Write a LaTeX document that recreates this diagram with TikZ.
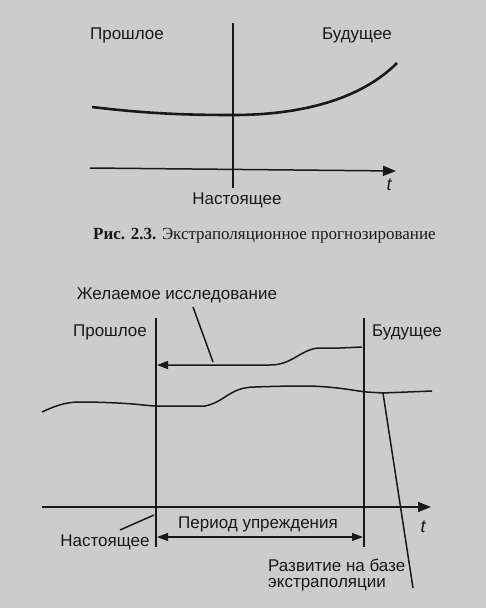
\documentclass[tikz,border=0pt]{standalone}
\usepackage{fontspec}
\setmainfont{Liberation Serif}
\newfontfamily\lblfont{Liberation Sans}
\usetikzlibrary{arrows.meta}
\definecolor{paper}{gray}{0.80}
\definecolor{ink}{gray}{0.10}
\tikzset{
  lbl/.style={font=\lblfont\fontsize{17}{18}\selectfont, text=ink, inner sep=0pt},
  ln/.style={draw=ink, line width=1.5pt},
  thick curve/.style={draw=ink, line width=2.6pt},
  tip/.style={-{Triangle[length=13pt,width=10pt]}},
}
\begin{document}
\begin{tikzpicture}[x=1pt,y=-1pt]
\fill[paper] (0,0) rectangle (486,608);
\useasboundingbox (0,0) rectangle (486,608);
% ---------- top diagram ----------
\node[lbl] (past1) at (127,35) {Прошлое};
\node[lbl] (fut1) at (357,35) {Будущее};
\node[lbl] (now1) at (237,200) {Настоящее};
\node[lbl, font=\lblfont\itshape\fontsize{18}{18}\selectfont] (t1) at (389,185) {t};
\coordinate (v1a) at (233,23);
\coordinate (v1b) at (233,188);
\draw[ln] (v1a) -- (v1b);
\coordinate (ax1a) at (90,168);
\coordinate (ax1b) at (396,171);
\draw[ln, tip] (ax1a) -- (ax1b);
\draw[thick curve] (92,107) .. controls (150,114) and (190,115) .. (233,115)
  .. controls (300,115) and (360,100) .. (397,63);
% ---------- caption ----------
\node[inner sep=0pt, anchor=west, text=ink, font=\fontsize{17}{18}\selectfont] (cap) at (93,236)
  {\textbf{Рис. 2.3.} Экстраполяционное прогнозирование};
% ---------- bottom diagram ----------
\node[lbl] (wish) at (177,295) {Желаемое исследование};
\node[lbl] (past2) at (110,332) {Прошлое};
\node[lbl] (fut2) at (407,332) {Будущее};
\node[lbl] (period) at (258,524) {Период упреждения};
\node[lbl] (now2) at (105,542) {Настоящее};
\node[lbl, font=\lblfont\itshape\fontsize{18}{18}\selectfont] (t2) at (423,527) {t};
\node[lbl, anchor=west, align=left] (dev) at (268,575) {Развитие на базе\\[-2pt]экстраполяции};
\coordinate (vl1) at (156,318);
\coordinate (vl2) at (156,547);
\coordinate (vr1) at (364,318);
\coordinate (vr2) at (364,547);
\draw[ln] (vl1) -- (vl2);
\draw[ln] (vr1) -- (vr2);
% axis
\coordinate (ax2a) at (42,507);
\coordinate (ax2b) at (431,507);
\draw[ln, tip] (ax2a) -- (ax2b);
% desired research arrow
\coordinate (wstart) at (362,347);
\coordinate (wend) at (157,365);
\draw[ln, -{Triangle[length=11pt,width=8pt]}] (wstart) -- (340,348) -- (318,348)
  .. controls (300,350) and (292,365) .. (270,365) -- (wend);
% leader from desired research label
\coordinate (wl1) at (193,307);
\coordinate (wl2) at (213,362);
\draw[ln] (wl1) -- (wl2);
% wavy development line
\draw[ln] (42,412) .. controls (55,406) and (65,402) .. (80,402)
  .. controls (100,402) and (120,403) .. (133,404)
  .. controls (145,405) and (150,406) .. (157,406)
  -- (205,406)
  .. controls (225,402) and (230,387) .. (255,387)
  .. controls (280,386) and (300,386) .. (310,386)
  .. controls (340,387) and (355,391) .. (367,392)
  -- (383,393) -- (432,391);
% leader for extrapolation development
\coordinate (dl1) at (383,393);
\coordinate (dl2) at (413,588);
\draw[ln] (dl1) -- (dl2);
% period double arrow
\coordinate (pa) at (157,537);
\coordinate (pb) at (363,537);
\draw[ln, {Triangle[length=11pt,width=8pt]}-{Triangle[length=11pt,width=8pt]}] (pa) -- (pb);
% leader for present
\coordinate (nl1) at (120,530);
\coordinate (nl2) at (154,515);
\draw[ln] (nl1) -- (nl2);
\end{tikzpicture}
\end{document}
